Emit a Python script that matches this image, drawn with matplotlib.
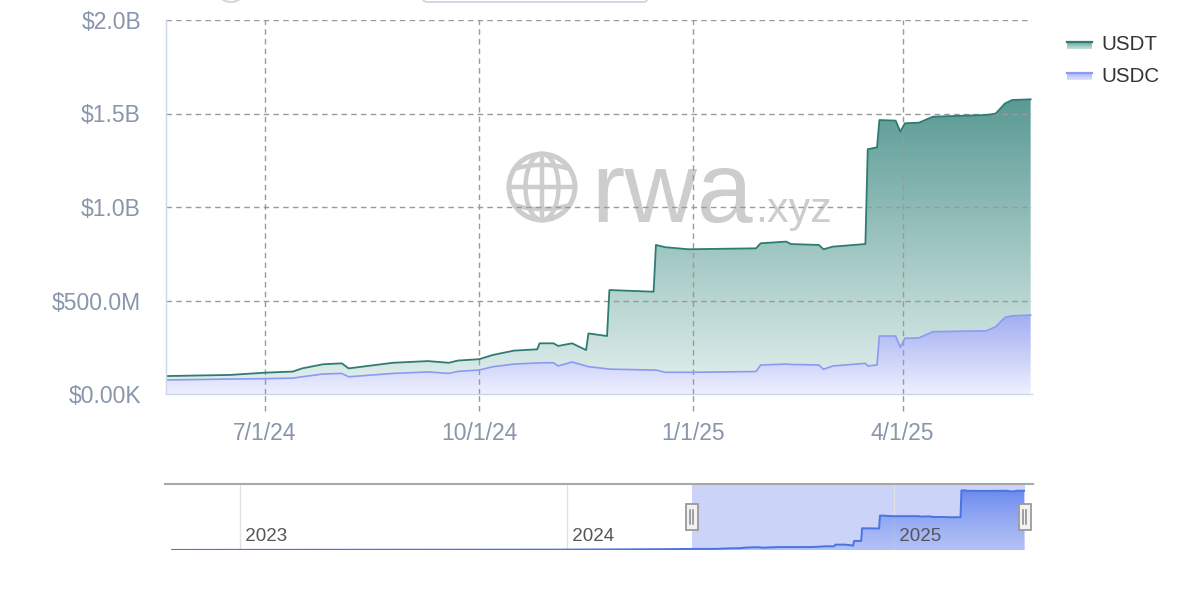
import numpy as np
import matplotlib
matplotlib.use('Agg')
import matplotlib.pyplot as plt
import matplotlib.dates as mdates
import matplotlib.transforms as mtransforms
from matplotlib.colors import to_rgb
from matplotlib.patches import Circle, Ellipse, Rectangle, FancyBboxPatch
from matplotlib import font_manager

plt.rcParams['font.family'] = ['Liberation Sans', 'DejaVu Sans']

# ---------------- data (values in $B) ----------------
dates = ['2024-05-20', '2024-06-16', '2024-07-01', '2024-07-13', '2024-07-17', '2024-07-26',
         '2024-08-03', '2024-08-06', '2024-08-25', '2024-09-09', '2024-09-18', '2024-09-22',
         '2024-10-01', '2024-10-07', '2024-10-16', '2024-10-26', '2024-10-27', '2024-11-02',
         '2024-11-04', '2024-11-10', '2024-11-16', '2024-11-17', '2024-11-25', '2024-11-26',
         '2024-12-15', '2024-12-16', '2024-12-20', '2024-12-30', '2025-01-28', '2025-01-30',
         '2025-02-10', '2025-02-12', '2025-02-24', '2025-02-26', '2025-03-02', '2025-03-16',
         '2025-03-17', '2025-03-21', '2025-03-22', '2025-03-29', '2025-03-31', '2025-04-02',
         '2025-04-08', '2025-04-14', '2025-05-07', '2025-05-11', '2025-05-15', '2025-05-18',
         '2025-05-26']
usdc = [0.075, 0.080, 0.082, 0.085, 0.092, 0.107,
        0.110, 0.092, 0.110, 0.118, 0.110, 0.121,
        0.128, 0.146, 0.160, 0.166, 0.167, 0.167,
        0.150, 0.171, 0.150, 0.146, 0.135, 0.133,
        0.128, 0.128, 0.116, 0.116, 0.120, 0.155,
        0.160, 0.158, 0.155, 0.132, 0.150, 0.164,
        0.150, 0.155, 0.310, 0.310, 0.250, 0.298,
        0.300, 0.333, 0.338, 0.360, 0.410, 0.418,
        0.422]
usdt = [0.021, 0.022, 0.032, 0.035, 0.045, 0.052,
        0.054, 0.045, 0.057, 0.058, 0.057, 0.058,
        0.058, 0.063, 0.072, 0.073, 0.104, 0.104,
        0.107, 0.100, 0.085, 0.178, 0.175, 0.423,
        0.419, 0.669, 0.669, 0.658, 0.659, 0.651,
        0.655, 0.644, 0.642, 0.642, 0.638, 0.638,
        1.159, 1.164, 1.155, 1.152, 1.153, 1.150,
        1.151, 1.150, 1.154, 1.140, 1.144, 1.154,
        1.154]

# earlier USDT history, only visible in the navigator
hist_dates = ['2022-10-17', '2023-01-15', '2023-04-01', '2023-07-01', '2023-10-01',
              '2024-01-01', '2024-03-01', '2024-04-15']
hist_usdt = [0.002, 0.003, 0.004, 0.005, 0.006, 0.008, 0.012, 0.016]

series_names = ['USDT', 'USDC']
ytick_vals = [0.0, 0.5, 1.0, 1.5, 2.0]
ytick_labels = ['$0.00K', '$500.0M', '$1.0B', '$1.5B', '$2.0B']
xtick_dates = ['2024-07-01', '2024-10-01', '2025-01-01', '2025-04-01']
xtick_labels = ['7/1/24', '10/1/24', '1/1/25', '4/1/25']
nav_years = ['2023', '2024', '2025']

# ---------------- layout helpers ----------------
W, H = 1199, 602
def rect(x0, y0, x1, y1):
    return [x0 / W, 1 - y1 / H, (x1 - x0) / W, (y1 - y0) / H]

def dn(s):
    return mdates.date2num(np.datetime64(s))

fig = plt.figure(figsize=(W / 100, H / 100), dpi=100)
fig.patch.set_facecolor('white')

# background overlay (watermark + cut-off UI)
bg = fig.add_axes([0, 0, 1, 1], zorder=0)
bg.set_xlim(0, W); bg.set_ylim(H, 0); bg.axis('off')

ax = fig.add_axes(rect(166, 20, 1032, 394), zorder=1)
ax.set_facecolor('none')

x = mdates.date2num(np.array(dates, dtype='datetime64[D]'))
usdc_a = np.array(usdc)
usdt_a = np.array(usdt)
stack_top = usdc_a + usdt_a

def grad_fill(a, xs, lower, upper, c_top, c_bot, ytop, ybot, z, a_top=1.0, a_bot=1.0):
    coll = a.fill_between(xs, lower, upper, facecolor='none', edgecolor='none', zorder=z)
    n = 256
    t = np.linspace(0, 1, n)[:, None, None]
    ct = np.array(to_rgb(c_top) + (a_top,))[None, None, :]
    cb = np.array(to_rgb(c_bot) + (a_bot,))[None, None, :]
    img = ct * (1 - t) + cb * t
    im = a.imshow(img, extent=[xs[0], xs[-1], ybot, ytop], origin='upper',
                  aspect='auto', zorder=z, interpolation='bilinear')
    im.set_clip_path(coll.get_paths()[0], transform=a.transData)
    return im

grad_fill(ax, x, np.zeros_like(usdc_a), usdc_a, '#a2aef3', '#eef0fe', usdc_a.max(), 0, 1)
grad_fill(ax, x, usdc_a, stack_top, '#5a9a94', '#e4f1ef', stack_top.max(), 0, 1)
ax.plot(x, usdc_a, color='#8c9af0', lw=1.2, zorder=3)
ax.plot(x, stack_top, color='#2f7c72', lw=1.3, zorder=3)

xmin, xmax = dn('2024-05-19T12:00'), dn('2025-05-26T14:00')
ax.set_xlim(xmin, xmax)
ax.set_ylim(0, 2.0)

ax.set_yticks(ytick_vals)
ax.set_yticklabels(ytick_labels)
ax.set_xticks([dn(d) for d in xtick_dates])
ax.set_xticklabels(xtick_labels)
ax.tick_params(axis='both', length=0, labelsize=16.5, labelcolor='#8896ab')
ax.tick_params(axis='y', pad=18)
ax.tick_params(axis='x', pad=20)

for s in ['top', 'right']:
    ax.spines[s].set_visible(False)
for s in ['left', 'bottom']:
    ax.spines[s].set_color('#ccd6eb')
    ax.spines[s].set_linewidth(1.0)
    ax.spines[s].set_zorder(4)

ax.grid(True, color='#9a9a9a', linestyle=(0, (4, 3)), linewidth=1.0, zorder=5)
ax.set_axisbelow(False)
ax.yaxis.get_gridlines()[0].set_visible(False)
blend = mtransforms.blended_transform_factory(ax.transData, ax.transAxes)
for xt in ax.get_xticks():
    ax.plot([xt, xt], [-0.045, 0], transform=blend, color='#9a9a9a',
            linestyle=(0, (4, 3)), lw=1.0, clip_on=False, zorder=5)

# ---------------- watermark ----------------
wm = '#cdcdcd'
gx, gy, gr = 542, 187, 33
bg.add_patch(Circle((gx, gy), gr, fill=False, ec=wm, lw=3.6))
bg.add_patch(Ellipse((gx, gy), gr * 1.0, gr * 2, fill=False, ec=wm, lw=3.2))
bg.plot([gx, gx], [gy - gr, gy + gr], color=wm, lw=3.2)
bg.plot([gx - gr, gx + gr], [gy, gy], color=wm, lw=3.2)
for sgn in (-1, 1):
    yl = 0.55 * gr
    half = gr * np.sqrt(1 - 0.55 ** 2)
    dx = np.linspace(-half, half, 60)
    yy = gy + sgn * (yl + 0.12 * gr * (1 - (dx / half) ** 2))
    bg.plot(gx + dx, yy, color=wm, lw=3.2, solid_capstyle='round')
names = {f.name for f in font_manager.fontManager.ttflist}
wm_font = 'Liberation Sans Narrow' if 'Liberation Sans Narrow' in names else 'Liberation Sans'
wm_scale = 1.0 if wm_font == 'Liberation Sans Narrow' else 0.84
bg.text(591, 222, 'rwa', fontsize=86 * wm_scale, color=wm, family=wm_font,
        ha='left', va='baseline')
bg.text(755, 222, '.xyz', fontsize=37 * wm_scale, color=wm, family=wm_font,
        ha='left', va='baseline')

# cut-off UI elements at top
bg.add_patch(Circle((231, -13), 15, fill=False, ec='#d6d6d6', lw=1.5))
bg.add_patch(FancyBboxPatch((422, -24), 228, 26, boxstyle='round,pad=0,rounding_size=6',
                            fill=False, ec='#c9d1e2', lw=1.2))

# ---------------- navigator ----------------
nav = fig.add_axes(rect(165, 484, 1033, 550), zorder=2)
nav.set_facecolor('white')
nx0, nx1 = dn('2022-10-09'), dn('2025-06-05')
nav.axvspan(xmin, xmax, color='#ccd3f8', zorder=0.5, lw=0)
nblend = mtransforms.blended_transform_factory(nav.transData, nav.transAxes)
for yr in nav_years:
    xv = dn(yr + '-01-01')
    nav.axvline(xv, color='#e2e2e2', lw=1.0, zorder=0.6)
    nav.text(xv, 0.2, ' ' + yr, transform=nblend,
             fontsize=13.5, color='#555555', ha='left', va='center', zorder=4)
nx = np.concatenate([mdates.date2num(np.array(hist_dates, dtype='datetime64[D]')), x])
ny = np.array(hist_usdt + usdt)
grad_fill(nav, nx, np.zeros_like(ny), ny, '#5f82ee', '#9fb3f5', ny.max(), 0, 1,
          a_top=0.9, a_bot=0.55)
nav.plot(nx, ny, color='#4a74e0', lw=1.4, zorder=3)
nav.set_xlim(nx0, nx1)
nav.set_ylim(0, 1.285)
nav.set_xticks([]); nav.set_yticks([])
for s in ['left', 'right', 'bottom']:
    nav.spines[s].set_visible(False)
nav.spines['top'].set_color('#a8a8a8')
nav.spines['top'].set_linewidth(1.5)

# ---------------- foreground overlay (legend, handles) ----------------
fg = fig.add_axes([0, 0, 1, 1], zorder=10)
fg.set_xlim(0, W); fg.set_ylim(H, 0); fg.axis('off')
fg.patch.set_visible(False)

def fg_grad(x0, x1, y0, y1, c_top, c_bot):
    n = 64
    t = np.linspace(0, 1, n)[:, None, None]
    img = np.array(to_rgb(c_top))[None, None, :] * (1 - t) + np.array(to_rgb(c_bot))[None, None, :] * t
    fg.imshow(img, extent=[x0, x1, y1, y0], origin='upper', aspect='auto', zorder=2)

legend_colors = [('#2f7c72', '#6aa7a1', '#c6e1dd'), ('#8c9af0', '#aab5f4', '#dfe3fc')]
legend_y = [45, 76]
for name, (lc, ct, cb), ly in zip(series_names, legend_colors, legend_y):
    fg_grad(1067, 1092, ly - 3, ly + 4, ct, cb)
    fg.plot([1067, 1092], [ly - 3, ly - 3], color=lc, lw=1.6, zorder=3)
    fg.text(1101, ly, name, fontsize=14.8, color='#333333', ha='left', va='center')

for xv in (xmin, xmax):
    px = nav.transData.transform((xv, 0))[0]
    fg.add_patch(Rectangle((px - 6, 504), 12, 26, fc='#f2f2f2', ec='#9a9a9a', lw=1.3, zorder=4))
    fg.plot([px - 1.6, px - 1.6], [510, 524], color='#888888', lw=1.1, zorder=5)
    fg.plot([px + 1.6, px + 1.6], [510, 524], color='#888888', lw=1.1, zorder=5)
fg.set_xlim(0, W); fg.set_ylim(H, 0)

fig.savefig('out.png', dpi=100, facecolor='white')
